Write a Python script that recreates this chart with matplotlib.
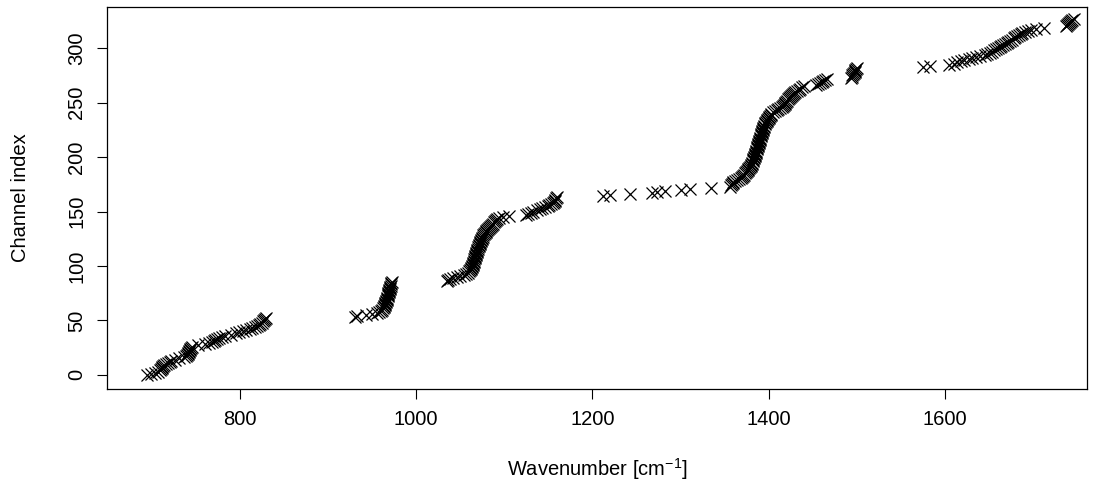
import numpy as np
import matplotlib
matplotlib.use("Agg")
import matplotlib.pyplot as plt

plt.rcParams['font.family'] = ['Liberation Sans', 'DejaVu Sans']
plt.rcParams['mathtext.default'] = 'regular'

# wavenumber for each detector channel (channel index = position in list)
wn_a = [694, 699, 703, 707, 709, 710, 711, 712, 713, 714, 716, 718, 720, 722,
        726, 731, 736, 739, 740, 741, 741, 742, 742, 743, 743, 744, 746, 752,
        760, 765, 768, 770, 772, 774, 776, 779, 783, 790, 795, 799, 803, 807,
        811, 814, 817, 819, 821, 823, 825, 826, 827, 828, 829]
wn_b = [930, 933, 943, 950, 955, 958, 960, 961, 962, 963, 963.5, 964, 964.5,
        965, 965.5, 966, 966.5, 967, 967, 967.5, 968, 968, 968.5, 969, 969,
        969.5, 970, 970, 970.5, 971, 971, 971.5, 972]
wn_c = [1035, 1036, 1038, 1042, 1046, 1050, 1054, 1057, 1059, 1060, 1061, 1062,
        1062.5, 1063, 1063.5, 1064, 1064.3, 1064.8, 1065.2, 1065.5, 1066, 1066.4,
        1066.8, 1067, 1067.5, 1068, 1068.3, 1068.8, 1069.2, 1069.5, 1070,
        1070.5, 1071, 1071.3, 1071.8, 1072.2, 1072.6, 1073, 1073.6, 1074.2,
        1074.8, 1075.5, 1076.2, 1077, 1077.8, 1078.7, 1079.5, 1080.5, 1081.5,
        1082.5, 1083.5, 1084.6, 1085.7, 1087, 1088.2, 1089.5, 1091, 1092,
        1094, 1098, 1105, 1124, 1127, 1130, 1133, 1137, 1140, 1143, 1146,
        1149, 1151, 1153, 1155, 1156, 1157, 1158, 1159, 1160]
wn_d = [1212, 1220, 1243, 1268, 1273, 1282, 1300, 1311, 1334, 1356, 1357, 1358,
        1359, 1360, 1362, 1364, 1366, 1368, 1370, 1371, 1372, 1373, 1374,
        1375, 1376, 1377, 1378, 1379, 1380, 1380.3]
wn_e = [1380.6, 1381.2, 1381.7, 1382.2, 1382.6, 1383.1, 1383.5, 1384, 1384.4,
        1384.8, 1385.2, 1385.6, 1386, 1386.4, 1386.8, 1387.1, 1387.5, 1387.9,
        1388.2, 1388.6, 1389, 1389.3, 1389.7, 1390, 1390.4, 1390.8, 1391.1,
        1391.5, 1391.9, 1392.3, 1392.7, 1393.1, 1393.6, 1394, 1394.5, 1395,
        1395.6, 1396.2, 1396.8, 1397.5, 1398.2, 1399, 1399.8, 1400.6, 1401.5,
        1402.2,
        1403, 1405, 1407, 1409, 1411, 1413, 1415, 1416, 1417, 1418, 1419,
        1420, 1421, 1422, 1423, 1424, 1425, 1426, 1428, 1429, 1430, 1432,
        1434, 1436, 1438, 1440,
        1454, 1456, 1458, 1460, 1462, 1464, 1466,
        1493, 1494, 1495, 1496, 1497, 1497.5, 1498, 1498.5, 1499, 1500]
wn_f = [1575, 1583, 1605, 1610, 1614, 1618, 1622, 1627, 1631, 1635, 1640, 1645,
        1648, 1651, 1653, 1656, 1658, 1660, 1662, 1664, 1666, 1668, 1670,
        1672, 1674, 1676, 1678, 1680, 1682, 1684, 1686, 1688, 1691, 1694,
        1698, 1703, 1712, 1737, 1739, 1740, 1741, 1742, 1743, 1744, 1746]

wavenumber = np.array(wn_a + wn_b + wn_c + wn_d + wn_e + wn_f, dtype=float)
channel = np.arange(len(wavenumber))

x_ticks = [800, 1000, 1200, 1400, 1600]
y_ticks = [0, 50, 100, 150, 200, 250, 300]

fig = plt.figure(figsize=(10.96, 4.93), dpi=100)
ax = fig.add_axes([0.0976, 0.211, 0.894, 0.775])

ax.plot(wavenumber, channel, linestyle='none', marker='x', color='black',
        markersize=8.5, markeredgewidth=0.9)

ax.set_xlim(649, 1761)
ax.set_ylim(-13, 338)
ax.set_xticks(x_ticks)
ax.set_yticks(y_ticks)
ax.set_yticklabels([str(v) for v in y_ticks], rotation=90, va='center')
ax.tick_params(direction='out', length=7, width=0.8, labelsize=14.5, pad=8)
for s in ax.spines.values():
    s.set_linewidth(0.9)

ax.set_xlabel('Wavenumber [cm$^{-1}$]', fontsize=14.5, labelpad=20)
ax.set_ylabel('Channel index', fontsize=14.5, labelpad=27)

fig.savefig('out.png', dpi=100)
